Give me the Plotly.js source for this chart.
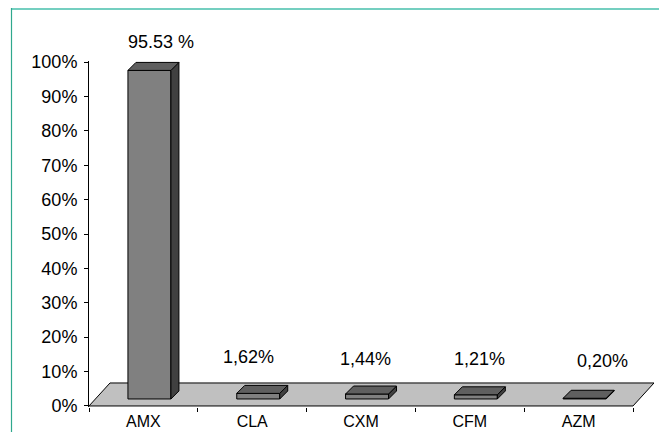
<!DOCTYPE html>
<html>
<head>
<meta charset="utf-8">
<script src="https://cdn.plot.ly/plotly-3.0.1.min.js"></script>
<style>
  html, body { margin: 0; padding: 0; background: #ffffff; overflow: hidden; }
  #chart { width: 659px; height: 432px; }
</style>
</head>
<body>
<div id="chart"></div>
<script>
// ---- data ----
const categories = ['AMX', 'CLA', 'CXM', 'CFM', 'AZM'];
const shares = [95.53, 1.62, 1.44, 1.21, 0.20];          // percent
const valueLabels = ['95.53 %', '1,62%', '1,44%', '1,21%', '0,20%'];
const yTickValues = [0, 10, 20, 30, 40, 50, 60, 70, 80, 90, 100];
const yTickLabels = yTickValues.map(v => v + '%');

// ---- geometry / style ----
const W = 659, H = 432;
const M = { l: 89, r: 5, t: 61, b: 25 };
const plotW = W - M.l - M.r, plotH = H - M.t - M.b;
const X_RANGE = [-0.5, -0.5 + plotW / 108.8];
const Y_RANGE = [-0.3, 100.3];
const pxPerX = plotW / (X_RANGE[1] - X_RANGE[0]);
const pxPerY = plotH / (Y_RANGE[1] - Y_RANGE[0]);
const px2x = p => p / pxPerX;
const px2y = p => p / pxPerY;

// oblique projection depths (pixels)
const FLOOR_DX = px2x(21), FLOOR_DY = px2y(23);
const BAR_DX = px2x(8), BAR_DY = px2y(8);
const BAR_BASE = px2y(7);            // bars stand part-way back on the floor
const BAR_WIDTH = 0.395, BAR_OFFSET = -0.142;

const FRONT = '#808080', TOP = '#5f5f5f', SIDE = '#404040', FLOOR = '#c0c0c0';

// value-label nudges (pixels)
const labelShiftX = [17.5, -4, 4, 10, 24];
const labelShiftY = [20, 28, 27, 28, 29];

const FONT = 'Liberation Sans, Arial, sans-serif';

// paper-coordinate helpers for the frame lines
const pxToPaperX = p => (p - M.l) / plotW;
const pxToPaperY = p => (H - M.b - p) / plotH;

const shapes = [];

// floor slab
const nCat = categories.length;
const fx0 = -0.5, fx1 = nCat - 0.5;
shapes.push({
  type: 'path', xref: 'x', yref: 'y', layer: 'below',
  path: `M ${fx0},0 L ${fx1},0 L ${fx1 + FLOOR_DX},${FLOOR_DY} L ${fx0 + FLOOR_DX},${FLOOR_DY} Z`,
  fillcolor: FLOOR, line: { color: '#000000', width: 1 }
});

// top and side faces of each column
shares.forEach((v, i) => {
  const x0 = i + BAR_OFFSET, x1 = x0 + BAR_WIDTH;
  const yb = BAR_BASE, yt = BAR_BASE + v;
  shapes.push({
    type: 'path', xref: 'x', yref: 'y', layer: 'above',
    path: `M ${x1},${yb} L ${x1},${yt} L ${x1 + BAR_DX},${yt + BAR_DY} L ${x1 + BAR_DX},${yb + BAR_DY} Z`,
    fillcolor: SIDE, line: { color: '#000000', width: 1 }
  });
  shapes.push({
    type: 'path', xref: 'x', yref: 'y', layer: 'above',
    path: `M ${x0},${yt} L ${x0 + BAR_DX},${yt + BAR_DY} L ${x1 + BAR_DX},${yt + BAR_DY} L ${x1},${yt} Z`,
    fillcolor: TOP, line: { color: '#000000', width: 1 }
  });
});

// teal frame lines (top and left)
shapes.push({
  type: 'line', xref: 'paper', yref: 'paper',
  x0: pxToPaperX(11), x1: pxToPaperX(660), y0: pxToPaperY(9), y1: pxToPaperY(9),
  line: { color: '#74cfc0', width: 2 }
});
shapes.push({
  type: 'line', xref: 'paper', yref: 'paper',
  x0: pxToPaperX(11.5), x1: pxToPaperX(11.5), y0: pxToPaperY(8), y1: pxToPaperY(433),
  line: { color: '#2fa88d', width: 1.2 }
});

const annotations = shares.map((v, i) => ({
  xref: 'x', yref: 'y',
  x: i, y: BAR_BASE + v + BAR_DY,
  text: valueLabels[i], showarrow: false,
  xanchor: 'center', yanchor: 'middle',
  xshift: labelShiftX[i], yshift: labelShiftY[i],
  font: { family: FONT, size: 18, color: '#000000' }
}));

const trace = {
  type: 'bar',
  x: categories,
  y: shares,
  base: BAR_BASE,
  width: BAR_WIDTH,
  offset: BAR_OFFSET,
  marker: { color: FRONT, line: { color: '#000000', width: 1 } },
  hoverinfo: 'skip'
};

const layout = {
  width: W, height: H,
  margin: { l: M.l, r: M.r, t: M.t, b: M.b, pad: 0 },
  paper_bgcolor: '#ffffff', plot_bgcolor: 'rgba(0,0,0,0)',
  showlegend: false,
  xaxis: {
    type: 'category', categoryorder: 'array', categoryarray: categories,
    range: X_RANGE, fixedrange: true,
    showgrid: false, zeroline: false, showline: false,
    ticks: 'outside', tickson: 'boundaries', ticklen: 4, tickwidth: 1, tickcolor: '#000000',
    ticklabelstandoff: 3,
    tickfont: { family: FONT, size: 16, color: '#000000' }
  },
  yaxis: {
    range: Y_RANGE, fixedrange: true,
    tickmode: 'array', tickvals: yTickValues, ticktext: yTickLabels,
    showgrid: false, zeroline: false,
    showline: true, linecolor: '#000000', linewidth: 1,
    ticks: 'outside', ticklen: 4, tickwidth: 1, tickcolor: '#000000',
    ticklabelstandoff: 3,
    tickfont: { family: FONT, size: 18, color: '#000000' }
  },
  shapes: shapes,
  annotations: annotations
};

Plotly.newPlot('chart', [trace], layout, { staticPlot: true, displayModeBar: false });
</script>
</body>
</html>
